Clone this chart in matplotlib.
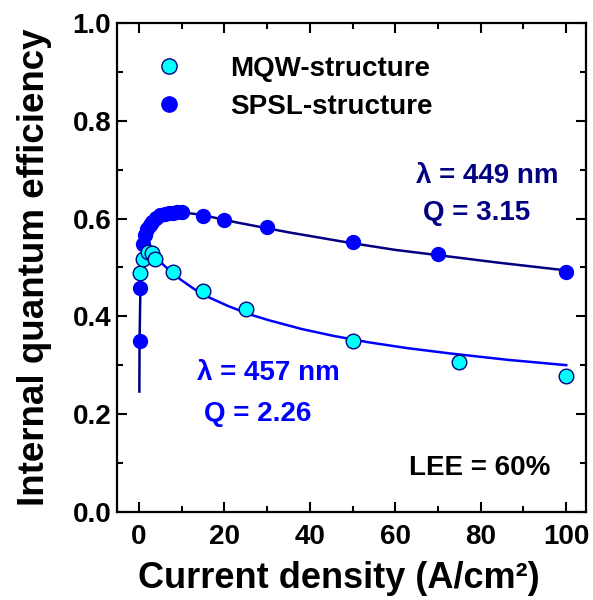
import matplotlib
matplotlib.use("Agg")
import matplotlib.pyplot as plt
from matplotlib.lines import Line2D
from matplotlib.ticker import MultipleLocator

plt.rcParams['font.family'] = ['Liberation Sans', 'DejaVu Sans']
plt.rcParams['font.weight'] = 'bold'

# ---- data ----
spsl_j = [0.15, 0.35, 1.0, 1.5, 2.0, 2.5, 3.0, 4.0, 5.0, 6.0, 7.0, 8.0, 9.0, 10.0, 15, 20, 30, 50, 70, 100]
spsl_iqe = [0.350, 0.459, 0.548, 0.566, 0.578, 0.587, 0.594, 0.602, 0.607, 0.610, 0.611, 0.612, 0.613, 0.614,
            0.605, 0.598, 0.582, 0.553, 0.528, 0.490]

mqw_j = [0.25, 1.0, 2.2, 3.0, 3.8, 8.0, 15, 25, 50, 75, 100]
mqw_iqe = [0.488, 0.517, 0.532, 0.529, 0.518, 0.490, 0.452, 0.414, 0.350, 0.307, 0.277]

# fitted curves
spsl_fit_j = [0.1, 0.15, 0.35, 0.6, 1.0, 1.5, 2.2, 3.0, 4.0, 5.5, 7.5, 10, 14.5, 23, 35, 49, 60, 73, 84, 100]
spsl_fit_iqe = [0.246, 0.350, 0.459, 0.505, 0.542, 0.563, 0.581, 0.593, 0.601, 0.608, 0.612, 0.613,
                0.608, 0.592, 0.572, 0.551, 0.536, 0.522, 0.510, 0.494]

mqw_fit_j = [1.0, 1.4, 2.2, 3.8, 5.9, 7.7, 9.8, 12.9, 16.6, 20.9, 25.9, 30.4, 38.1, 45.5, 53.6, 62.7,
             72.8, 86.2, 100]
mqw_fit_iqe = [0.510, 0.524, 0.530, 0.522, 0.504, 0.490, 0.475, 0.456, 0.438, 0.421, 0.404, 0.392,
               0.374, 0.360, 0.347, 0.335, 0.324, 0.311, 0.300]

x_ticks = [0, 20, 40, 60, 80, 100]
y_ticks = [0.0, 0.2, 0.4, 0.6, 0.8, 1.0]

navy = '#000080'
blue = '#0000FF'
cyan = '#00FFFF'

fig = plt.figure(figsize=(5.93, 6.0), dpi=100)
ax = fig.add_axes([0.1968, 0.1472, 0.7912, 0.814])

ax.plot(spsl_fit_j, spsl_fit_iqe, color=navy, lw=1.8, zorder=2)
ax.plot(mqw_fit_j, mqw_fit_iqe, color=blue, lw=1.8, zorder=2)
ax.plot(spsl_j, spsl_iqe, 'o', color=blue, mec=blue, ms=10, zorder=3)
ax.plot(mqw_j, mqw_iqe, 'o', color=cyan, mec=navy, mew=1.0, ms=10.5, zorder=4)

ax.set_xlim(-5.2, 104.6)
ax.set_ylim(0, 1.0)
ax.set_xticks(x_ticks)
ax.set_xticklabels([str(v) for v in x_ticks])
ax.set_yticks(y_ticks)
ax.set_yticklabels([f"{v:.1f}" for v in y_ticks])
ax.xaxis.set_minor_locator(MultipleLocator(10))
ax.yaxis.set_minor_locator(MultipleLocator(0.1))
ax.tick_params(which='both', direction='in', top=True, right=True, width=1.5, labelsize=20)
ax.tick_params(which='major', length=7)
ax.tick_params(which='minor', length=4)
ax.tick_params(axis='x', pad=9)
ax.tick_params(axis='y', pad=4)
for s in ax.spines.values():
    s.set_linewidth(1.6)

ax.set_xlabel('Current density (A/cm²)', fontsize=26, fontweight='bold')
ax.xaxis.set_label_coords(0.473, -0.137)
ax.xaxis.label.set_va('center')
ax.set_ylabel('Internal quantum efficiency', fontsize=26.5, fontweight='bold', labelpad=15)

handles = [Line2D([], [], ls='none', marker='o', color=cyan, mec=navy, mew=1.0, ms=11),
           Line2D([], [], ls='none', marker='o', color=blue, mec=blue, ms=11)]
ax.legend(handles, ['MQW-structure', 'SPSL-structure'], loc='upper left', bbox_to_anchor=(0.0, 0.985),
          frameon=False, handletextpad=1.2, labelspacing=0.45,
          prop={'weight': 'bold', 'size': 20})

ax.text(81.5, 0.688, 'λ = 449 nm', color=navy, fontsize=20, fontweight='bold', ha='center', va='center')
ax.text(79, 0.612, 'Q = 3.15', color=navy, fontsize=20, fontweight='bold', ha='center', va='center')
ax.text(30.2, 0.284, 'λ = 457 nm', color=blue, fontsize=20, fontweight='bold', ha='center', va='center')
ax.text(27.7, 0.2, 'Q = 2.26', color=blue, fontsize=20, fontweight='bold', ha='center', va='center')
ax.text(79.7, 0.09, 'LEE = 60%', color='black', fontsize=20, fontweight='bold', ha='center', va='center')

fig.savefig('out.png', dpi=100)
